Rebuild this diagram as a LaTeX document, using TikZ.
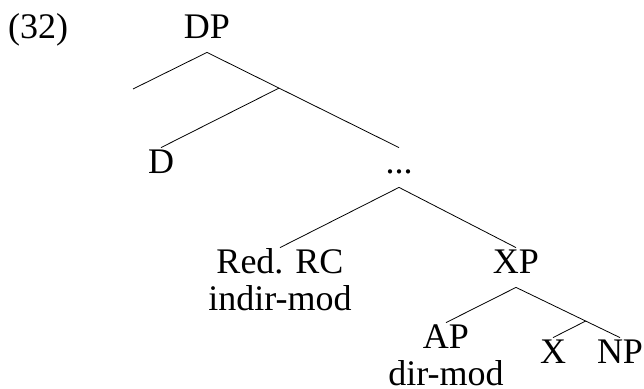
\documentclass[tikz,border=0pt]{standalone}
\usepackage{fontspec}
\setmainfont{Liberation Serif}
\tikzset{
	cat/.style={anchor=base, font=\fontsize{36}{43}\selectfont, inner sep=2pt, text height=23pt, text depth=12pt},
	gloss/.style={anchor=base, font=\fontsize{36}{43}\selectfont, inner sep=0pt}
}
\begin{document}
\begin{tikzpicture}[x=1pt, y=-1pt, line width=0.8pt]
		\useasboundingbox (0,0) rectangle (644,388);
		\node[cat] (ex) at (38,38) {(32)};
		\node[cat] (dp) at (207,38) {DP};
		\node[cat] (d) at (161,173) {D};
		\node[cat] (dots) at (399,173) {...};
		\node[cat] (rc) at (280,273) {Red. RC};
		\node[gloss] (rcmod) at (280,310) {indir-mod};
		\node[cat] (xp) at (516,273) {XP};
		\node[cat] (ap) at (446,348) {AP};
		\node[gloss] (apmod) at (446,385) {dir-mod};
		\node[cat] (x) at (553,363) {X};
		\node[cat] (np) at (620,363) {NP};
		\coordinate (dpl) at (133,89);
		\draw (dp.south) -- (dpl);
		\draw (dp.south) -- coordinate[pos=0.375] (dpm) (dots.north);
		\draw (dpm) -- (d.north);
		\draw (dots.south) -- (rc.north);
		\draw (dots.south) -- (xp.north);
		\draw (xp.south) -- (ap.north);
		\draw (xp.south) -- coordinate[pos=0.67] (xpm) (np.north);
		\draw (xpm) -- (x.north);
	\end{tikzpicture}
\end{document}
